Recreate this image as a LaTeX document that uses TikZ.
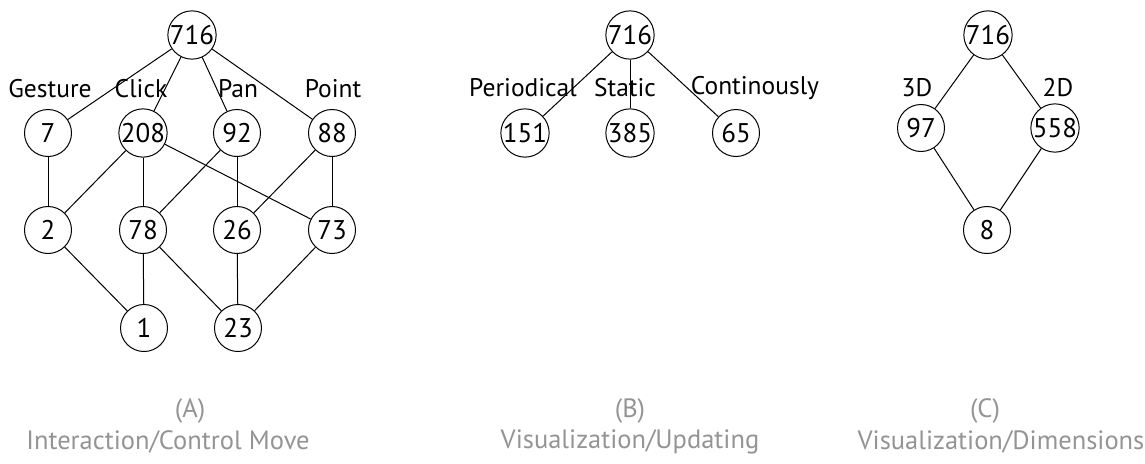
\documentclass[tikz,border=0pt]{standalone}
\usepackage{fontspec}
\setmainfont{PT Sans}
\begin{document}
\begin{tikzpicture}[x=1pt,y=-1pt,
  num/.style={circle,draw,line width=1pt,minimum size=47pt,inner sep=0pt,font=\fontsize{27}{27}\selectfont},
  lbl/.style={inner sep=0pt,font=\fontsize{25.5}{25.5}\selectfont},
  captext/.style={inner sep=0pt,text=black!42,font=\fontsize{26.5}{26.5}\selectfont},
  conn/.style={line width=1pt}]
\useasboundingbox (0,0) rectangle (1145,463);
% Part A
\node[num] (a716) at (192,35) {716};
\node[num] (a7) at (48,133) {7};
\node[num] (a208) at (143,133) {208};
\node[num] (a92) at (237,133) {92};
\node[num] (a88) at (332,133) {88};
\node[num] (a2) at (48,230) {2};
\node[num] (a78) at (143,230) {78};
\node[num] (a26) at (237,230) {26};
\node[num] (a73) at (332,230) {73};
\node[num] (a1) at (144,328) {1};
\node[num] (a23) at (238,328) {23};
\node[lbl] (lg) at (50,89) {Gesture};
\node[lbl] (lc) at (141,89) {Click};
\node[lbl] (lp) at (238,89) {Pan};
\node[lbl] (lpt) at (333,89) {Point};
\foreach \u/\v in {a716/a7,a716/a208,a716/a92,a716/a88,a7/a2,a208/a2,a208/a78,a208/a73,a92/a78,a92/a26,a88/a26,a88/a73,a2/a1,a78/a1,a78/a23,a26/a23,a73/a23}
  \draw[conn] (\u) -- (\v);
% Part B
\node[num] (b716) at (630,35) {716};
\node[num] (b151) at (525,133) {151};
\node[num] (b385) at (630,133) {385};
\node[num] (b65) at (736,133) {65};
\node[lbl] (lper) at (523,88) {Periodical};
\node[lbl] (lst) at (625,88) {Static};
\node[lbl] (lco) at (755,88) {Continously};
\foreach \v in {b151,b385,b65}
  \draw[conn] (b716) -- (\v);
% Part C
\node[num] (c716) at (988,35) {716};
\node[num] (c97) at (921,128) {97};
\node[num] (c558) at (1055,128) {558};
\node[num] (c8) at (987,230) {8};
\node[lbl] (l3d) at (917,88) {3D};
\node[lbl] (l2d) at (1058,88) {2D};
\foreach \u/\v in {c716/c97,c716/c558,c97/c8,c558/c8}
  \draw[conn] (\u) -- (\v);
% Captions
\node[captext] (capA1) at (190,411) {(A)};
\node[captext] (capA2) at (168,442) {Interaction/Control Move};
\node[captext] (capB1) at (630,411) {(B)};
\node[captext] (capB2) at (630,442) {Visualization/Updating};
\node[captext] (capC1) at (985,411) {(C)};
\node[captext] (capC2) at (1001,442) {Visualization/Dimensions};
\end{tikzpicture}
\end{document}
